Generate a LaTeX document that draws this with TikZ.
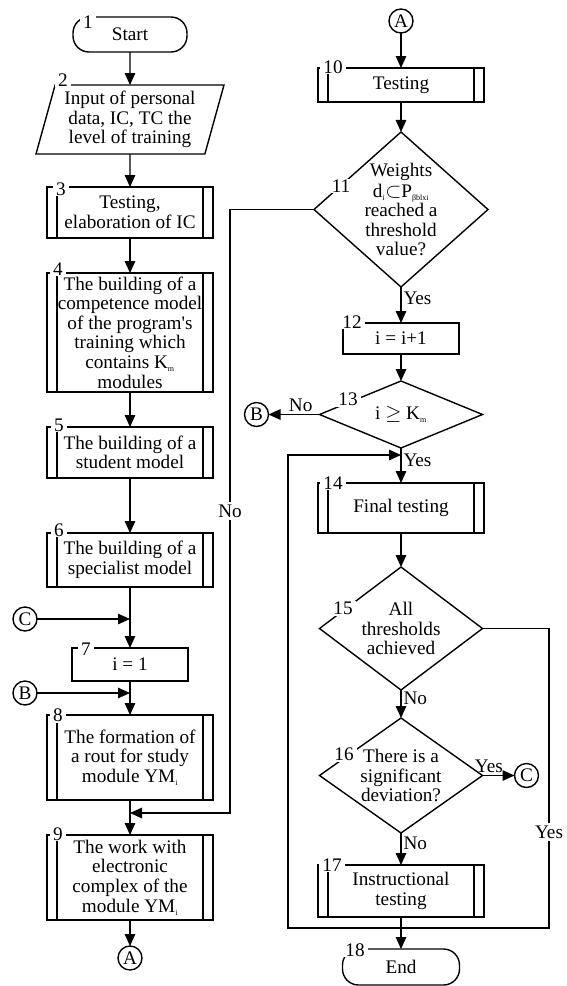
\documentclass[tikz,border=0pt]{standalone}
\usepackage{fontspec}
\setmainfont{Liberation Serif}
\usepackage{tikz}
\usetikzlibrary{shapes.geometric,arrows.meta,positioning}

\newcommand{\sbs}[1]{\textsubscript{\fontsize{8}{8}\selectfont #1}}

\begin{document}
\begin{tikzpicture}[
    x=1pt, y=1pt,
    font=\fontsize{19.2}{19.6}\selectfont,
    every node/.append style={outer sep=0pt},
    line/.style={line width=1.4pt},
    arrow/.style={line, -{Triangle[length=12pt,width=10.5pt]}},
    term/.style={rectangle, draw, line width=1.4pt, rounded corners=16pt, minimum width=114pt, minimum height=35pt, inner sep=1pt},
    io/.style={trapezium, trapezium left angle=72, trapezium right angle=108, trapezium stretches body, draw, line width=1.4pt, minimum width=188pt, minimum height=69pt, inner sep=1pt, align=center},
    proc/.style={rectangle, draw, line width=1.4pt, minimum width=116pt, inner sep=1pt, align=center},
    subproc/.style={rectangle, draw, line width=1.4pt, minimum width=166pt, inner sep=0.5pt, align=center,
        path picture={\draw[line width=1.4pt]
            ([xshift=10pt]path picture bounding box.north west) -- ([xshift=10pt]path picture bounding box.south west)
            ([xshift=-10pt]path picture bounding box.north east) -- ([xshift=-10pt]path picture bounding box.south east);}},
    decision/.style={diamond, draw, line width=1.4pt, inner sep=-3pt, align=center},
    conn/.style={circle, draw, line width=1.4pt, minimum size=24pt, inner sep=0pt},
    num/.style={fill=white, inner xsep=3pt, inner ysep=1pt},
    lbl/.style={inner sep=2.5pt}
]
    \useasboundingbox (0,0) rectangle (567,-986);

    % Left column
    \node[term] (n1) at (130,-34.5) {Start};
    \node[io, below=33pt of n1] (n2) {Input of personal\\data, IC, TC the\\level of training};
    \node[subproc, below=33pt of n2, minimum height=51pt] (n3) {Testing,\\elaboration of IC};
    \node[subproc, below=35pt of n3, minimum height=119pt] (n4) {The building of a\\competence model\\of the program\textquotesingle s\\training which\\contains K\sbs{m}\\modules};
    \node[subproc, below=35pt of n4, minimum height=51pt] (n5) {The building of a\\student model};
    \node[subproc, below=55pt of n5, minimum height=54pt] (n6) {The building of a\\specialist model};
    \node[proc, below=61pt of n6, minimum height=33pt] (n7) {i = 1};
    \node[subproc, below=34pt of n7, minimum height=85pt] (n8) {The formation of\\a rout for study\\module YM\sbs{i}};
    \node[subproc, below=35pt of n8, minimum height=85pt] (n9) {The work with\\electronic\\complex of the\\module YM\sbs{i}};
    \node[conn, below=26pt of n9] (cA1) {A};
    \node[conn] (cC1) at (25,-619) {C};
    \node[conn] (cB1) at (25,-693) {B};

    % Right column
    \node[conn] (cA2) at (401,-21) {A};
    \node[subproc, below=35pt of cA2, minimum height=34pt] (n10) {Testing};
    \node[decision, below=30pt of n10, shape aspect=1.123, minimum width=174pt, minimum height=155pt] (n11) {Weights\\[1.5pt]d\sbs{i}$\subset$P\sbs{βblxi}\\reached a\\threshold\\value?};
    \node[proc, below=36pt of n11, minimum height=31pt] (n12) {i = i+1};
    \node[decision, below=27pt of n12, shape aspect=2.43, minimum width=163pt, minimum height=67pt] (n13) {i $\geq$ K\sbs{m}};
    \node[conn, left=51pt of n13] (cB2) {B};
    \node[subproc, below=35pt of n13, minimum height=50pt] (n14) {Final testing};
    \node[decision, below=34pt of n14, shape aspect=1.325, minimum width=163pt, minimum height=123pt] (n15) {All\\thresholds\\achieved};
    \node[decision, below=28pt of n15, shape aspect=1.417, minimum width=163pt, minimum height=115pt] (n16) {There is a\\significant\\deviation?};
    \node[conn, right=32pt of n16] (cC2) {C};
    \node[subproc, below=32pt of n16, minimum height=52pt] (n17) {Instructional\\testing};
    \node[term, below=32pt of n17, minimum width=117pt, minimum height=36pt] (n18) {End};

    % Numbers
    \node[num] (k1) at ([xshift=-42pt,yshift=-5pt]n1.north) {1};
    \node[num] (k2) at ([xshift=-67pt,yshift=5pt]n2.north) {2};
    \node[num] (k3) at ([xshift=-69pt,yshift=-2pt]n3.north) {3};
    \node[num] (k4) at ([xshift=-72pt,yshift=4pt]n4.north) {4};
    \node[num] (k5) at ([xshift=-71pt,yshift=2pt]n5.north) {5};
    \node[num] (k6) at ([xshift=-71pt,yshift=3pt]n6.north) {6};
    \node[num] (k7) at ([xshift=-44pt,yshift=-1pt]n7.north) {7};
    \node[num] (k8) at ([xshift=-72pt]n8.north) {8};
    \node[num] (k9) at ([xshift=-72pt,yshift=1pt]n9.north) {9};
    \node[num] (k10) at ([xshift=-68pt,yshift=1pt]n10.north) {10};
    \node[num] (k11) at ([xshift=-60pt,yshift=23.5pt]n11.center) {11};
    \node[num] (k12) at ([xshift=-49pt,yshift=1pt]n12.north) {12};
    \node[num] (k13) at ([xshift=-53pt,yshift=15pt]n13.center) {13};
    \node[num] (k14) at ([xshift=-68pt]n14.north) {14};
    \node[num] (k15) at ([xshift=-58pt,yshift=20pt]n15.center) {15};
    \node[num] (k16) at ([xshift=-57pt,yshift=21pt]n16.center) {16};
    \node[num] (k17) at ([xshift=-69pt]n17.north) {17};
    \node[num] (k18) at ([xshift=-46pt,yshift=-1pt]n18.north) {18};

    % Helper points
    \coordinate (noturn) at (230,-813);
    \coordinate (join) at ([yshift=-11pt]n17.south);
    \coordinate (yesturn) at (549,-928);
    \coordinate (loopturn) at (288,-455);

    % Left arrows
    \draw[arrow] (n1) -- (n2);
    \draw[arrow] (n2) -- (n3);
    \draw[arrow] (n3) -- (n4);
    \draw[arrow] (n4) -- (n5);
    \draw[arrow] (n5) -- (n6);
    \draw[arrow] (n6) -- (n7);
    \draw[arrow] (n7) -- (n8);
    \draw[arrow] (n8) -- (n9);
    \draw[arrow] (n9) -- (cA1);
    \draw[arrow] (cC1) -- (cC1 -| n7.north);
    \draw[arrow] (cB1) -- (cB1 -| n8.north);

    % Right arrows
    \draw[arrow] (cA2) -- (n10);
    \draw[arrow] (n10) -- (n11);
    \draw[arrow] (n11) -- node[lbl, right, pos=0.3] (yes11) {Yes} (n12);
    \draw[arrow] (n11.west) -| node[lbl, fill=white, pos=0.75] (no11) {No} (noturn) -- (noturn -| n9.north);
    \draw[arrow] (n12) -- (n13);
    \draw[arrow] (n13) -- node[lbl, above, pos=0.37] (no13) {No} (cB2);
    \draw[arrow] (n13) -- node[lbl, right, pos=0.34] (yes13) {Yes} (n14);
    \draw[arrow] (n14) -- (n15);
    \draw[arrow] (n15) -- node[lbl, right, pos=0.3] (no15) {No} (n16);
    \draw[arrow] (n16) -- node[lbl, above, pos=0.2] (yes16) {Yes} (cC2);
    \draw[arrow] (n16) -- node[lbl, right, pos=0.33] (no16) {No} (n17);
    \draw[line] (n15.east) -| node[lbl, fill=white, pos=0.84] (yes15) {Yes} (yesturn) -- (join);
    \draw[line] (n17) -- (join);
    \draw[arrow] (join) -- (n18);
    \draw[arrow] (join) -| (loopturn) -- (loopturn -| n14.north);
\end{tikzpicture}
\end{document}
